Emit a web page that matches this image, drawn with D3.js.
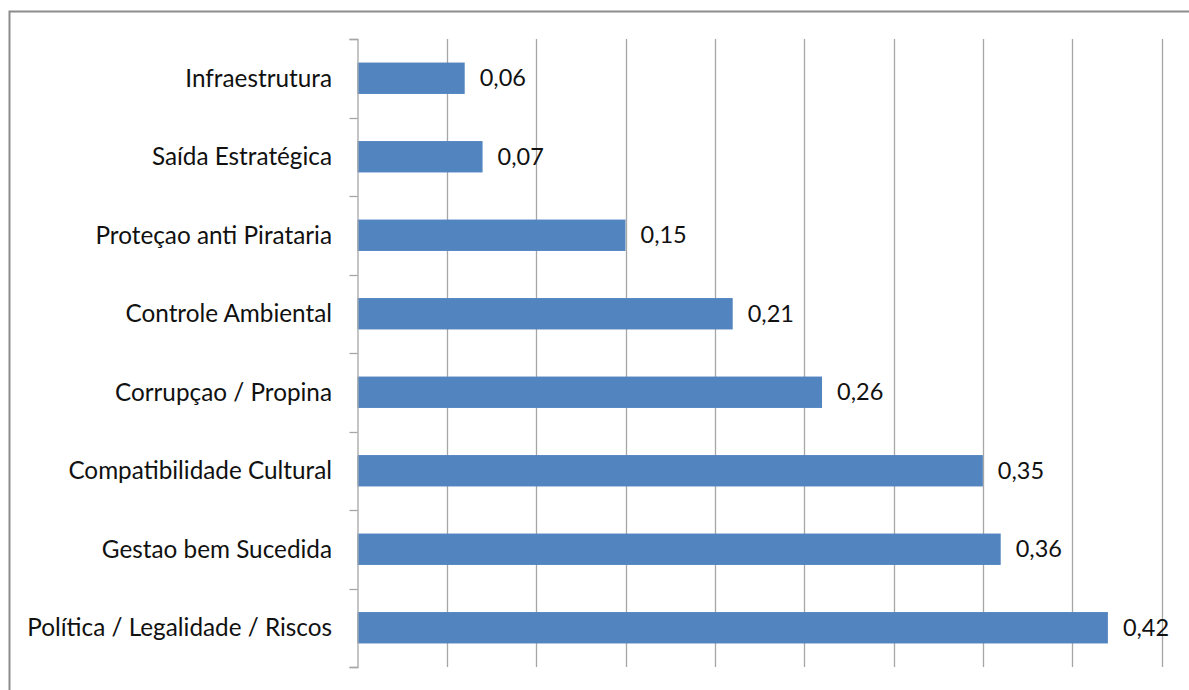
<!DOCTYPE html>
<html><head><meta charset="utf-8">
<script src="https://cdn.jsdelivr.net/npm/d3@7"></script>
<style>body{margin:0;background:#fff;}svg{display:block;}</style>
</head><body>
<script>
const categories = ["Infraestrutura","Saída Estratégica","Proteçao anti Pirataria","Controle Ambiental","Corrupçao / Propina","Compatibilidade Cultural","Gestao bem Sucedida","Política / Legalidade / Riscos"];
const values = [0.06,0.07,0.15,0.21,0.26,0.35,0.36,0.42];
const valueLabels = ["0,06","0,07","0,15","0,21","0,26","0,35","0,36","0,42"];
const gridTicks = [0,0.05,0.10,0.15,0.20,0.25,0.30,0.35,0.40,0.45];

const W=1189,H=690;
const svg=d3.select("body").append("svg").attr("width",W).attr("height",H);
// frame
svg.append("path").attr("d",`M9.5,${H}V11.5H${W}`).attr("fill","none").attr("stroke","#8c8c8c").attr("stroke-width",2);

const x=d3.scaleLinear().domain([0,0.45]).range([357.5,1161.5]);
const y=d3.scaleBand().domain(categories).range([39,667]).paddingInner(0.6).paddingOuter(0.3);
const yb=d3.scaleBand().domain(categories).range([39,667]);

const g=svg.append("g");
g.selectAll("line.grid").data(gridTicks.slice(1)).join("line")
 .attr("x1",d=>Math.round(x(d))+0.5).attr("x2",d=>Math.round(x(d))+0.5)
 .attr("y1",39).attr("y2",667).attr("stroke","#a6a6a6").attr("stroke-width",1.3);

g.selectAll("rect.bar").data(values).join("rect")
 .attr("x",x(0)).attr("y",(d,i)=>y(categories[i]))
 .attr("width",d=>x(d)-x(0)).attr("height",y.bandwidth()).attr("fill","#5284c0");

// axis
const axis=d3.axisLeft(yb).tickSize(8).tickSizeOuter(8).tickFormat("");
const ag=svg.append("g").attr("transform",`translate(${x(0)},0)`).call(axis);
ag.select(".domain").attr("stroke","#a6a6a6").attr("stroke-width",1.3);
ag.selectAll(".tick").remove();
const bounds=categories.map(c=>yb(c)).concat([667]);
ag.selectAll("line.b").data(bounds).join("line").attr("x1",-8).attr("x2",0)
 .attr("y1",d=>Math.round(d)+0.5).attr("y2",d=>Math.round(d)+0.5).attr("stroke","#a6a6a6").attr("stroke-width",1.3);

const FONT="Lato, 'Open Sans', sans-serif";
svg.selectAll("text.cat").data(categories).join("text")
 .attr("x",332).attr("y",d=>yb(d)+yb.bandwidth()/2).attr("dy","0.35em")
 .attr("text-anchor","end").attr("font-family",FONT).attr("font-size",24.3).attr("fill","#111").text(d=>d);

svg.selectAll("text.val").data(values).join("text")
 .attr("x",d=>x(d)+15).attr("y",(d,i)=>yb(categories[i])+yb.bandwidth()/2).attr("dy","0.35em")
 .attr("font-family",FONT).attr("font-size",23.5).attr("fill","#111").text((d,i)=>valueLabels[i]);
</script>
</body></html>
